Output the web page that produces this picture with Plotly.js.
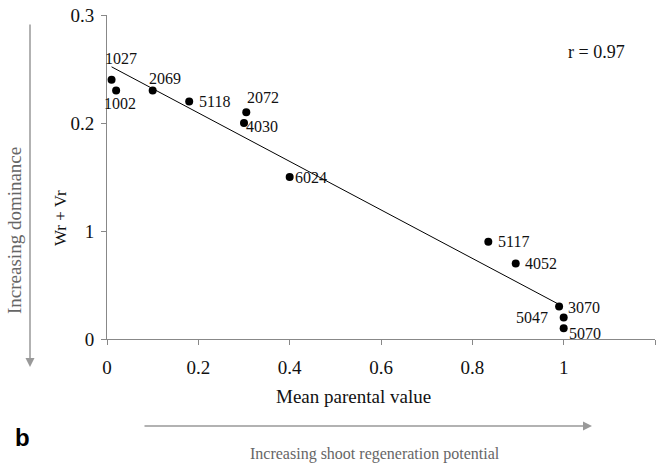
<!DOCTYPE html>
<html>
<head>
<meta charset="utf-8">
<script src="https://cdn.plot.ly/plotly-3.0.1.min.js"></script>
<style>
  html, body { margin: 0; padding: 0; background: #fff; }
  #chart { width: 658px; height: 465px; }
</style>
</head>
<body>
<div id="chart"></div>
<script>
// ---- data ----
const genotypes = ["1027", "1002", "2069", "5118", "2072", "4030", "6024", "5117", "4052", "3070", "5047", "5070"];
const meanParental = [0.01, 0.02, 0.10, 0.18, 0.305, 0.30, 0.40, 0.835, 0.895, 0.99, 1.00, 1.00];
const wrPlusVr = [0.24, 0.23, 0.23, 0.22, 0.21, 0.20, 0.15, 0.09, 0.07, 0.03, 0.02, 0.01];
const trendX = [0.01, 0.99];
const trendY = [0.252, 0.032];
const xTickVals = [0, 0.2, 0.4, 0.6, 0.8, 1, 1.2];
const xTickText = ["0", "0.2", "0.4", "0.6", "0.8", "1", ""];
const yTickVals = [0, 0.1, 0.2, 0.3];
const yTickText = ["0", "1", "0.2", "0.3"];
const rText = "r = 0.97";

// ---- layout helpers ----
const W = 658, H = 465;
const M = {l: 107, r: 3, t: 15, b: 126};
const PW = W - M.l - M.r, PH = H - M.t - M.b;
const px2x = p => (p - M.l) / PW;
const py2y = p => (H - M.b - p) / PH;

const serif = "Liberation Serif, Times New Roman, serif";

// label offsets in pixels (dx, dy) relative to each point
const labelOffsets = [
  [9, -21], [4, 13], [12, -12], [25, 0], [17, -15], [18, 3],
  [21, 0], [25, 0], [25, 0], [25, 1], [-32, 0], [21, 5]
];

const annotations = genotypes.map((g, i) => ({
  x: meanParental[i], y: wrPlusVr[i], xref: 'x', yref: 'y',
  xanchor: 'center', yanchor: 'middle',
  text: g, showarrow: false,
  xshift: labelOffsets[i][0], yshift: -labelOffsets[i][1],
  font: {family: serif, size: 16, color: '#111'}
}));

function paperText(px, py, text, size, color, extra) {
  return Object.assign({
    xref: 'paper', yref: 'paper', x: px2x(px), y: py2y(py),
    xanchor: 'center', yanchor: 'middle',
    text: text, showarrow: false, font: {family: serif, size: size, color: color}
  }, extra || {});
}

annotations.push(paperText(596, 52, rText, 18, '#111'));
annotations.push(paperText(353, 397, "Mean parental value", 19, '#111'));
annotations.push(paperText(60, 218, "Wr + Vr", 17, '#111', {textangle: -90}));
annotations.push(paperText(375, 454, "Increasing shoot regeneration potential", 16, '#666'));
annotations.push(paperText(14, 231, "Increasing dominance", 19, '#666', {textangle: -90}));
annotations.push(paperText(22, 437, "<b>b</b>", 24, '#000',
  {font: {family: "Liberation Sans, Arial, sans-serif", size: 24, color: '#000'}}));
// arrows
annotations.push({
  xref: 'paper', yref: 'paper', x: px2x(592), y: py2y(426),
  ax: px2x(143), ay: py2y(426), axref: 'paper', ayref: 'paper',
  text: '', showarrow: true, arrowhead: 2, arrowsize: 1.2, arrowwidth: 1.5, arrowcolor: '#999'
});
annotations.push({
  xref: 'paper', yref: 'paper', x: px2x(30), y: py2y(367),
  ax: px2x(30), ay: py2y(23), axref: 'paper', ayref: 'paper',
  text: '', showarrow: true, arrowhead: 2, arrowsize: 1.2, arrowwidth: 1.5, arrowcolor: '#999'
});

const traces = [
  {
    x: trendX, y: trendY, type: 'scatter', mode: 'lines',
    line: {color: '#000', width: 1}, hoverinfo: 'skip'
  },
  {
    x: meanParental, y: wrPlusVr, type: 'scatter', mode: 'markers',
    marker: {color: '#000', size: 8}
  }
];

const layout = {
  width: W, height: H,
  margin: {l: M.l, r: M.r, t: M.t, b: M.b, pad: 0},
  paper_bgcolor: '#fff', plot_bgcolor: '#fff',
  showlegend: false,
  xaxis: {
    range: [0, 1.2], tickvals: xTickVals, ticktext: xTickText,
    showgrid: false, zeroline: false, showline: true, linecolor: '#888', linewidth: 1,
    ticks: 'outside', ticklen: 5, tickcolor: '#888', ticklabelstandoff: 6,
    tickfont: {family: serif, size: 19, color: '#111'}
  },
  yaxis: {
    range: [0, 0.3], tickvals: yTickVals, ticktext: yTickText,
    showgrid: false, zeroline: false, showline: true, linecolor: '#888', linewidth: 1,
    ticks: 'outside', ticklen: 5, tickcolor: '#888', ticklabelstandoff: 3,
    tickfont: {family: serif, size: 19, color: '#111'}
  },
  annotations: annotations
};

Plotly.newPlot('chart', traces, layout, {displayModeBar: false, staticPlot: true});
</script>
</body>
</html>
